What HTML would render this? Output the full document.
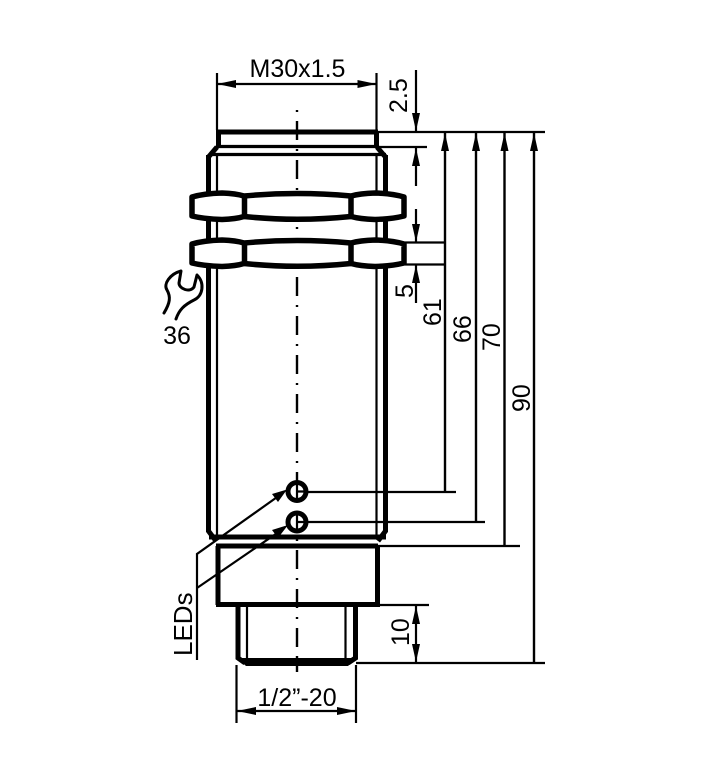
<!DOCTYPE html>
<html><head><meta charset="utf-8"><style>
html,body{margin:0;padding:0;background:#fff;width:709px;height:780px;overflow:hidden}
svg{display:block}
text{font-family:"Liberation Sans",sans-serif;font-size:25px;fill:#000}
.t{stroke:#000;stroke-width:2.200;fill:none}
.k{stroke:#000;stroke-width:5;fill:none}
.m{stroke:#000;stroke-width:3.200;fill:none}
.a{fill:#000;stroke:none}
</style></head><body>
<svg width="709" height="780" viewBox="0 0 709 780" xmlns="http://www.w3.org/2000/svg">
<!-- centre line -->
<path d="M297 110V662" stroke="#000" stroke-width="2.400" stroke-dasharray="2 9 19 9" fill="none"/>
<path d="M297 662V672" stroke="#000" stroke-width="2.400"/>
<!-- top cap -->
<path class="k" d="M216 132H378"/>
<path class="k" d="M218.500 132V147M376.500 132V147"/>
<path class="m" d="M216 146.500H378"/>
<path class="m" d="M209 154.500H386"/>
<path class="k" d="M208.500 157L217 147M385.500 157L377 147"/>
<!-- body -->
<path class="k" d="M208.500 155V192M208.500 220V240M208.500 267V531L216 541"/>
<path class="k" d="M385.500 155V192M385.500 220V240M385.500 267V531L378 541"/>
<path class="t" d="M217 154V192M217 220V240M217 267V538M376.500 154V192M376.500 220V240M376.500 267V538"/>
<path class="k" d="M209 537H386"/>
<path class="k" d="M216 546H378"/>
<!-- nuts -->
<path d="M192 197Q204 193.500 222 193Q236 193.500 244 196Q297 191 351 196Q360 193.500 375 193Q392 193.500 404 197V216Q392 219 375 219.500Q360 219 351 216.500Q297 222 244 216.500Q236 219 222 219.500Q204 219 192 216Z" fill="#fff" stroke="#000" stroke-width="5.500" stroke-linejoin="round"/>
<path d="M244.500 195V218M351 195V218" stroke="#000" stroke-width="5.500"/>
<g transform="translate(0 47)">
<path d="M192 197Q204 193.500 222 193Q236 193.500 244 196Q297 191 351 196Q360 193.500 375 193Q392 193.500 404 197V216Q392 219 375 219.500Q360 219 351 216.500Q297 222 244 216.500Q236 219 222 219.500Q204 219 192 216Z" fill="#fff" stroke="#000" stroke-width="5.500" stroke-linejoin="round"/>
<path d="M244.500 195V218M351 195V218" stroke="#000" stroke-width="5.500"/>
</g>
<!-- collar and connector -->
<path class="k" d="M218 546V605M377.500 546V605M216 604.500H380"/>
<path class="k" d="M238 605V658L245 663M355.500 605V658L348 663"/>
<path class="t" d="M247 605V660M345.500 605V660"/>
<path d="M237 658H357L348 666H246Z" fill="#000"/>
<!-- LEDs -->
<circle cx="297" cy="491.500" r="9" fill="#fff" stroke="#000" stroke-width="5"/>
<circle cx="297" cy="522" r="9" fill="#fff" stroke="#000" stroke-width="5"/>
<path d="M297 483V500M297 491.500H305M297 514V531M297 522H305" stroke="#000" stroke-width="2.200"/>
<path class="t" d="M197 660V554L280 495M197 588L283 529"/>
<path class="a" d="M287 489.500L272 494L278 502Z"/>
<path class="a" d="M288 525L272 530L278 538Z"/>
<!-- extension lines -->
<path class="t" d="M217 73V130M376.500 73V130"/>
<path class="t" d="M378 132H545"/>
<path class="t" d="M378 147H427"/>
<path class="t" d="M405 242.500H445M405 264.500H445"/>
<path class="t" d="M305 492H456M305 522H485M378 546H520"/>
<path class="t" d="M378 605H429M356 663H545"/>
<path class="t" d="M236.500 665V723M356 665V723"/>
<!-- dims -->
<path class="t" d="M217 84H377"/>
<path class="a" d="M217 84L236 80V88ZM376.500 84L357.500 80V88Z"/>
<path class="t" d="M236.500 711H356"/>
<path class="a" d="M237 711L256 707V715ZM356 711L337 707V715Z"/>
<path class="t" d="M416 70V132M416 147V186"/>
<path class="a" d="M416 131L412 113H420ZM416 148L412 166H420Z"/>
<path class="t" d="M416 209V242M416 265V303"/>
<path class="a" d="M416 242L412 224H420ZM416 265L412 283H420Z"/>
<path class="t" d="M416 605V663"/>
<path class="a" d="M416 606L412 624H420ZM416 662L412 644H420Z"/>
<g stroke="#000" stroke-width="2.400" fill="none">
<path d="M445 133V492M476 133V521M504.500 133V546M534 133V663"/>
</g>
<path class="a" d="M445 133L441 151H449ZM476 133L472 151H480ZM504.500 133L500.500 151H508.500ZM534 133L530 151H538Z"/>
<!-- wrench -->
<path d="M164 313C170 303 171 297 167 290C163 284 170 274 181 271L179 283C179 289 190 293 194 287L197 275C205 283 203 296 194 300C184 305 179 310 176 319" fill="none" stroke="#000" stroke-width="3" stroke-linecap="round" stroke-linejoin="round"/>
<!-- text -->
<text x="297.500" y="77" text-anchor="middle">M30x1.5</text>
<text x="177" y="344" text-anchor="middle">36</text>
<text x="297" y="706" text-anchor="middle">1/2”-20</text>
<text transform="translate(407 113) rotate(-90)">2.5</text>
<text transform="translate(413 298) rotate(-90)">5</text>
<text transform="translate(441 326) rotate(-90)">61</text>
<text transform="translate(471 343) rotate(-90)">66</text>
<text transform="translate(500 351) rotate(-90)">70</text>
<text transform="translate(530 412) rotate(-90)">90</text>
<text transform="translate(409 646) rotate(-90)">10</text>
<text transform="translate(192 656) rotate(-90)" style="font-size:26px">LEDs</text>
</svg>
</body></html>
